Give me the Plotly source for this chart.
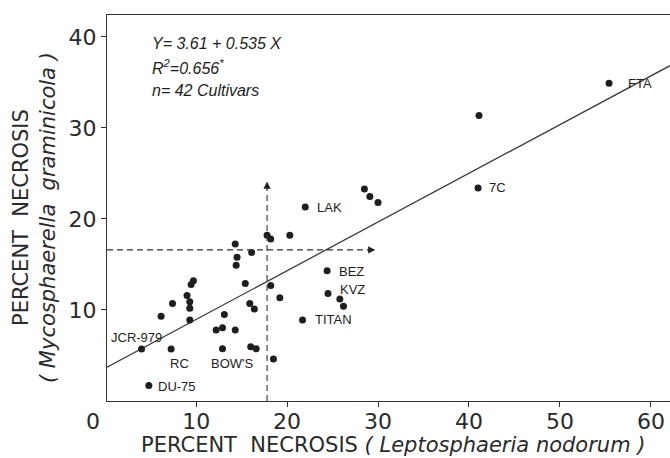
import plotly.graph_objects as go

# ---- data ----
x_vals = [22.0, 17.8, 18.2, 20.3, 14.3, 16.1, 14.5, 14.4, 15.4, 18.2, 19.2,
          9.7, 9.45, 9.0, 9.3, 9.3, 9.3, 7.4, 6.15, 15.9, 16.4, 13.1, 12.9,
          12.2, 14.3, 4.0, 7.25, 12.9, 16.0, 16.6, 18.5, 4.8, 28.5, 29.1,
          30.0, 24.4, 24.5, 25.8, 26.2, 21.7, 41.1, 41.0, 55.4]
y_vals = [21.3, 18.2, 17.8, 18.2, 17.25, 16.3, 15.8, 14.9, 12.9, 12.7, 11.35,
          13.2, 12.8, 11.6, 10.9, 10.2, 8.9, 10.7, 9.3, 10.7, 10.1, 9.5, 8.05,
          7.8, 7.8, 5.7, 5.7, 5.75, 5.97, 5.75, 4.6, 1.7, 23.3, 22.45,
          21.8, 14.3, 11.8, 11.2, 10.4, 8.9, 31.35, 23.4, 34.9]

label_texts = ["JCR-979", "RC", "BOW'S", "DU-75", "LAK", "BEZ", "KVZ", "TITAN", "7C", "FTA"]
label_x = [3.4, 8.2, 14.0, 5.55, 23.1, 25.5, 25.6, 22.8, 42.0, 57.25]
label_y = [7.0, 4.1, 4.1, 1.6, 21.3, 14.2, 12.3, 8.9, 23.4, 34.85]
label_anchor = ["center", "center", "center", "left", "left", "left", "left", "left", "left", "left"]

intercept = 3.61
slope = 0.535
mean_x = 17.8
mean_y = 16.6
arrow_top_y = 24.1
arrow_right_x = 29.7

x_ticks = [10, 20, 30, 40, 50, 60]
y_ticks = [10, 20, 30, 40]
x_range = [0.2, 62.1]
y_range = [0, 42.4]

INK = "#1e1e1e"
TICK_FONT = "DejaVu Sans, Verdana, sans-serif"
LAB_FONT = "Liberation Sans, Arial, sans-serif"

fig = go.Figure()

# regression line
fig.add_trace(go.Scatter(
    x=[x_range[0], x_range[1]],
    y=[intercept + slope * x_range[0], intercept + slope * x_range[1]],
    mode="lines", line=dict(color="#3a3a3a", width=1.3),
    hoverinfo="skip", showlegend=False))

# points
fig.add_trace(go.Scatter(
    x=x_vals, y=y_vals, mode="markers",
    marker=dict(color=INK, size=7, line=dict(width=0)),
    showlegend=False))

# mean dashed lines
fig.add_shape(type="line", x0=mean_x, x1=mean_x, y0=y_range[0], y1=arrow_top_y - 0.6,
              line=dict(color="#333", width=1.1, dash="6px,4px"))
fig.add_shape(type="line", x0=x_range[0], x1=arrow_right_x - 0.6, y0=mean_y, y1=mean_y,
              line=dict(color="#333", width=1.1, dash="6px,4px"))
fig.add_annotation(x=mean_x, y=arrow_top_y, ax=mean_x, ay=arrow_top_y - 1.0,
                   xref="x", yref="y", axref="x", ayref="y", text="",
                   showarrow=True, arrowhead=2, arrowsize=1.2, arrowwidth=1.2,
                   arrowcolor="#222", standoff=0)
fig.add_annotation(x=arrow_right_x, y=mean_y, ax=arrow_right_x - 1.0, ay=mean_y,
                   xref="x", yref="y", axref="x", ayref="y", text="",
                   showarrow=True, arrowhead=2, arrowsize=1.2, arrowwidth=1.2,
                   arrowcolor="#222", standoff=0)

# point labels
for t, lx, ly, anc in zip(label_texts, label_x, label_y, label_anchor):
    fig.add_annotation(x=lx, y=ly, text=t, showarrow=False, xanchor=anc,
                       yanchor="middle",
                       font=dict(family=LAB_FONT, size=13, color=INK))

# equation block
eq_lines = ["Y= 3.61 + 0.535 X", "R<sup>2</sup>=0.656<sup>*</sup>", "n= 42 Cultivars"]
eq_y_px = [43, 67, 90]
for txt, py in zip(eq_lines, eq_y_px):
    fig.add_annotation(xref="paper", yref="paper",
                       x=(150 - 107) / 563, y=(401 - py) / 386,
                       text="<i>" + txt + "</i>", showarrow=False,
                       xanchor="left", yanchor="middle",
                       font=dict(family=LAB_FONT, size=16, color=INK))

# shared zero at the corner
fig.add_annotation(xref="paper", yref="paper", x=(93 - 107) / 563, y=(401 - 421) / 386,
                   text="0", showarrow=False, xanchor="center", yanchor="middle",
                   font=dict(family=TICK_FONT, size=22, color="#2a2a2a"))

# axis titles
fig.add_annotation(xref="paper", yref="paper", x=(393 - 107) / 563, y=(401 - 445) / 386,
                   text="PERCENT  NECROSIS <i>( Leptosphaeria nodorum )</i>",
                   showarrow=False, xanchor="center", yanchor="middle",
                   font=dict(family=TICK_FONT, size=21, color="#2a2a2a"))
fig.add_annotation(xref="paper", yref="paper", x=(34 - 107) / 563, y=(401 - 218) / 386,
                   text="PERCENT  NECROSIS<br><i>( Mycosphaerella  graminicola )</i>",
                   showarrow=False, xanchor="center", yanchor="middle", textangle=-90,
                   font=dict(family=TICK_FONT, size=21, color="#2a2a2a"))

fig.update_layout(
    width=670, height=458,
    margin=dict(l=107, r=0, t=15, b=57),
    paper_bgcolor="white", plot_bgcolor="white",
    showlegend=False,
    xaxis=dict(range=x_range, tickvals=x_ticks, ticktext=[str(v) for v in x_ticks],
               showgrid=False, zeroline=False, showline=True, mirror=True,
               linecolor="#333", linewidth=1.3, ticks="outside", ticklen=5,
               tickcolor="#333", tickwidth=1, ticklabelstandoff=-5,
               tickfont=dict(family=TICK_FONT, size=22, color="#2a2a2a")),
    yaxis=dict(range=y_range, tickvals=y_ticks, ticktext=[str(v) for v in y_ticks],
               showgrid=False, zeroline=False, showline=True, mirror=False,
               linecolor="#333", linewidth=1.3, ticks="outside", ticklen=5,
               tickcolor="#333", tickwidth=1,
               tickfont=dict(family=TICK_FONT, size=22, color="#2a2a2a")),
)

fig.write_html("out.html")
